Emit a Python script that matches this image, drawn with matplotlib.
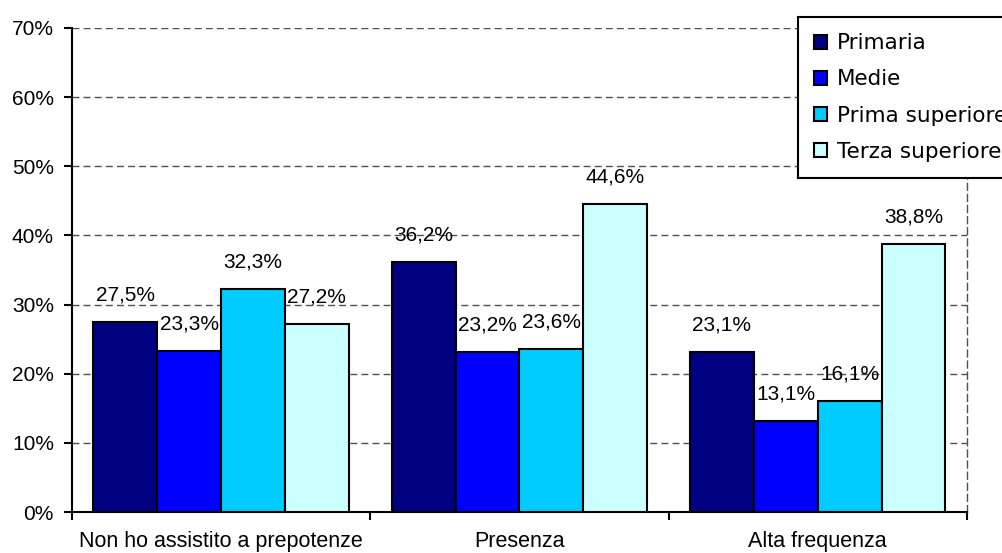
import numpy as np
import matplotlib.pyplot as plt
from matplotlib.ticker import FixedLocator, NullFormatter

plt.rcParams['font.family'] = ['Liberation Sans', 'DejaVu Sans']

categories = ['Non ho assistito a prepotenze', 'Presenza', 'Alta frequenza']
series = ['Primaria', 'Medie', 'Prima superiore', 'Terza superiore']
primaria = [27.5, 36.2, 23.1]
medie = [23.3, 23.2, 13.1]
prima_sup = [32.3, 23.6, 16.1]
terza_sup = [27.2, 44.6, 38.8]
colors = ['#000080', '#0000FF', '#00CCFF', '#CCFFFF']

values = [primaria, medie, prima_sup, terza_sup]
fs = 15

fig = plt.figure(figsize=(10.03, 5.53), dpi=100)
ax = fig.add_axes([0.0718, 0.0741, 0.8922, 0.8753])

x = np.arange(len(categories))
w = 0.214
for i, (name, vals) in enumerate(zip(series, values)):
    pos = x + (i - 1.5) * w
    ax.bar(pos, vals, w, color=colors[i], edgecolor='black', linewidth=1.5,
           label=name, zorder=3)
    for p, v in zip(pos, vals):
        ax.text(p, v + 3.9, ('%.1f%%' % v).replace('.', ','), ha='center',
                va='center', fontsize=fs)

ax.set_xlim(-0.5, 2.5)
ax.set_ylim(0, 70)
ax.set_yticks(np.arange(0, 71, 10))
ax.set_yticklabels(['%d%%' % t for t in range(0, 71, 10)], fontsize=fs)
ax.yaxis.grid(True, linestyle=(0, (5, 3)), color='#505050', linewidth=1, zorder=0)

ax.set_xticks(x)
ax.set_xticklabels(categories, fontsize=15.5)
ax.tick_params(axis='x', which='major', length=0, pad=14)
ax.xaxis.set_minor_locator(FixedLocator([-0.5, 0.5, 1.5, 2.5]))
ax.xaxis.set_minor_formatter(NullFormatter())
ax.tick_params(axis='x', which='minor', length=6, width=1.5)
ax.tick_params(axis='y', length=6, width=1.5, pad=7)

ax.spines['top'].set_visible(False)
ax.spines['right'].set_linestyle((0, (5, 3)))
ax.spines['right'].set_color('#505050')
ax.spines['right'].set_linewidth(1)
ax.spines['left'].set_linewidth(1.5)
ax.spines['bottom'].set_linewidth(1.5)

leg = fig.legend(loc='upper left', bbox_to_anchor=(0.7956, 0.969),
                 prop={'family': 'DejaVu Sans', 'size': 15.5},
                 handlelength=0.62, handleheight=0.62,
                 handletextpad=0.45, labelspacing=0.75, borderpad=0.75,
                 borderaxespad=0, fancybox=False, framealpha=1,
                 edgecolor='black')
leg.get_frame().set_linewidth(1.5)

fig.savefig('out.png', dpi=100)
